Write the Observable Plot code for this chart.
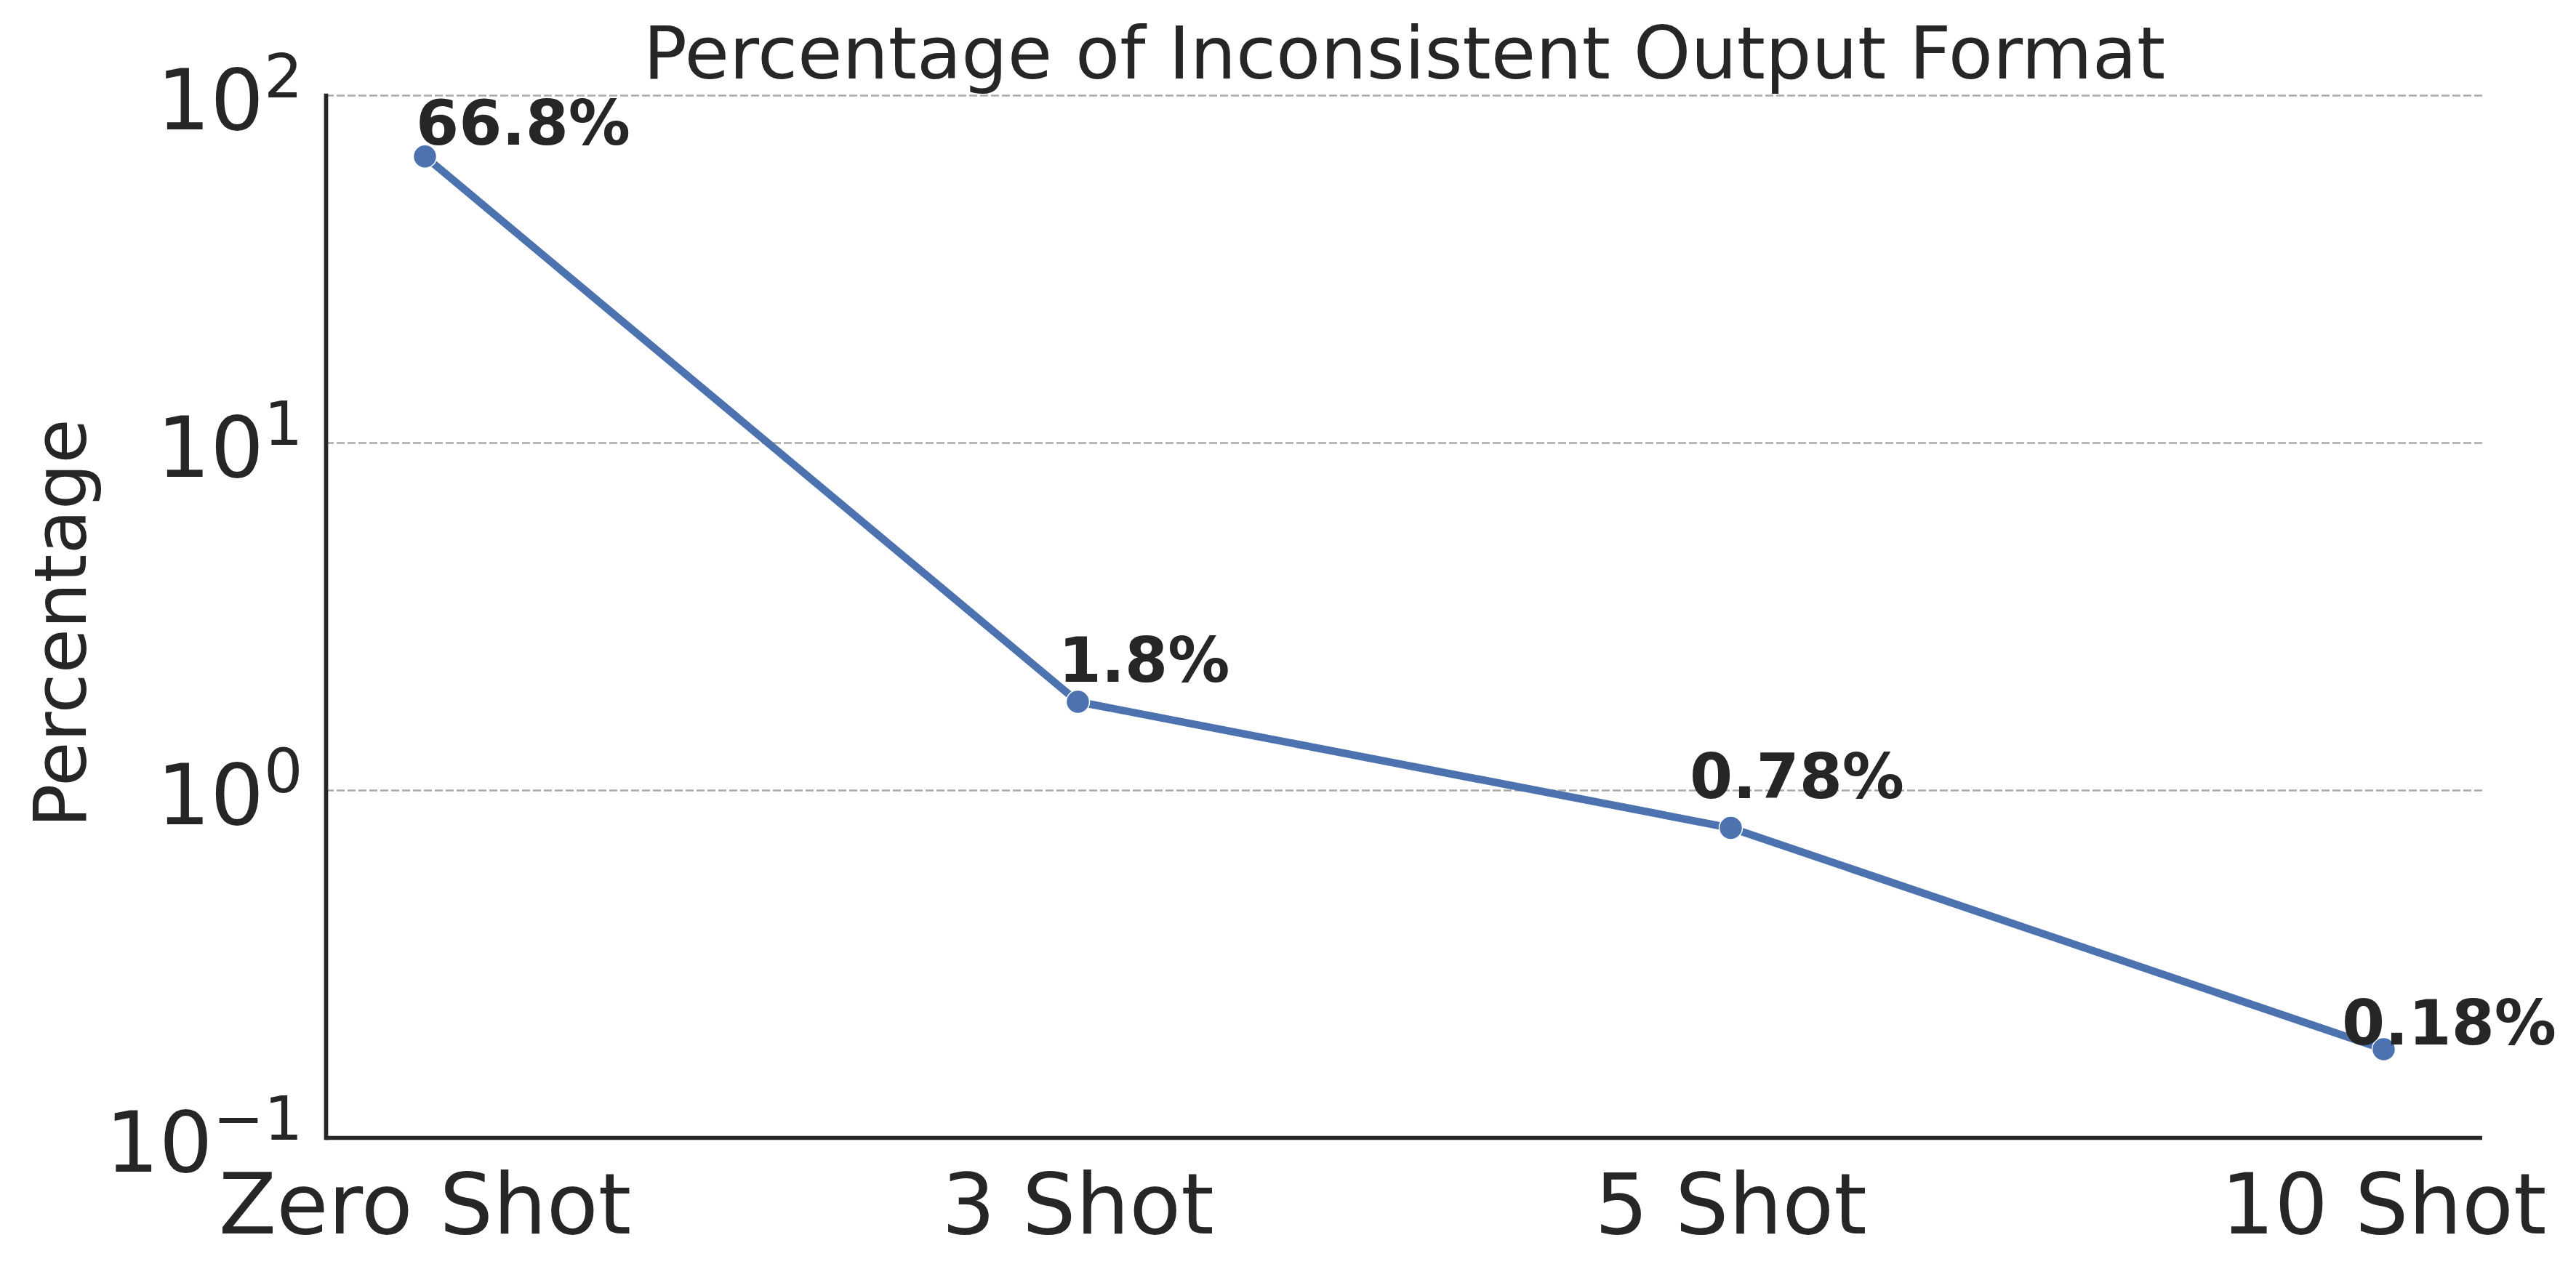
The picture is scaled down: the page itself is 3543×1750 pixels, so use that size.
<!DOCTYPE html>
<html><head><meta charset="utf-8">
<script src="https://cdn.jsdelivr.net/npm/d3@7"></script>
<script src="https://cdn.jsdelivr.net/npm/@observablehq/plot@0.6"></script>
<style>body{margin:0;background:#fff;} svg{display:block;}</style>
</head><body><div id="chart"></div>
<script>
const categories = ["Zero Shot", "3 Shot", "5 Shot", "10 Shot"];
const percentages = [66.8, 1.8, 0.78, 0.18];
const valueLabels = ["66.8%", "1.8%", "0.78%", "0.18%"];
const yTicks = [0.1, 1, 10, 100];
const yTickLabels = ["10^\u22121", "10^0", "10^1", "10^2"];
const title = "Percentage of Inconsistent Output Format";
const yLabel = "Percentage";

const data = categories.map((c, i) => ({category: c, value: percentages[i], label: valueLabels[i]}));
// annotation nudges (dx, dy in px) for the value labels
const labelNudges = [[135, -16], [91, -27], [91, -41], [90, -6]];

const ink = "#262626";
const blue = "#4c72b0";

const chart = Plot.plot({
  width: 3543,
  height: 1750,
  marginLeft: 448,
  marginRight: 129,
  marginTop: 131,
  marginBottom: 185,
  style: {fontFamily: "DejaVu Sans", fontSize: "116px", color: ink, background: "#fff"},
  x: {type: "point", domain: categories, padding: 0.15, label: null},
  y: {type: "log", domain: [0.1, 100], label: null},
  marks: [
    Plot.gridY(yTicks.slice(1), {stroke: "#aaaaaa", strokeOpacity: 1, strokeWidth: 2.5, strokeDasharray: "11,4"}),
    Plot.axisX({tickSize: 0, tickPadding: 49, label: null, fontSize: 116, fill: ink}),
    Plot.axisY({ticks: yTicks, tickSize: 0, tickPadding: 32, label: null, fontSize: 116, fill: ink,
      tickFormat: (d) => yTickLabels[yTicks.indexOf(d)]}),
    Plot.frame({anchor: "left", stroke: ink, strokeWidth: 5.7}),
    Plot.ruleY([0.1], {stroke: ink, strokeWidth: 5.7}),
    Plot.line(data, {x: "category", y: "value", stroke: blue, strokeWidth: 10.5}),
    Plot.dot(data, {x: "category", y: "value", r: 16, fill: blue, stroke: "white", strokeWidth: 1.5}),
    ...labelNudges.map(([dx, dy], i) => Plot.text([data[i]], {
      x: "category", y: "value", text: "label", dx, dy,
      lineAnchor: "bottom", textAnchor: "middle", fontWeight: "bold", fontSize: 85, fill: ink
    })),
    Plot.text([title], {frameAnchor: "top", text: (d) => d, dy: -24, lineAnchor: "bottom",
      textAnchor: "middle", fontSize: 100, fill: ink}),
    Plot.text([yLabel], {frameAnchor: "left", text: (d) => d, rotate: -90, dx: -331, dy: 9,
      lineAnchor: "bottom", textAnchor: "middle", fontSize: 100, fill: ink})
  ]
});

// Render y tick labels as 10 with a raised exponent (real text with tspans)
const NS = "http://www.w3.org/2000/svg";
chart.querySelectorAll('g[aria-label="y-axis tick label"] text').forEach((t) => {
  const s = t.textContent;
  const parts = s.split("^");
  while (t.firstChild) t.removeChild(t.firstChild);
  t.removeAttribute("dy");
  t.setAttribute("y", "46");
  t.appendChild(document.createTextNode(parts[0]));
  if (parts.length > 1) {
    const sup = document.createElementNS(NS, "tspan");
    sup.setAttribute("dy", "-44");
    sup.setAttribute("font-size", "84");
    sup.textContent = parts[1];
    t.appendChild(sup);
  }
});

document.getElementById("chart").appendChild(chart);
</script>
</body></html>
